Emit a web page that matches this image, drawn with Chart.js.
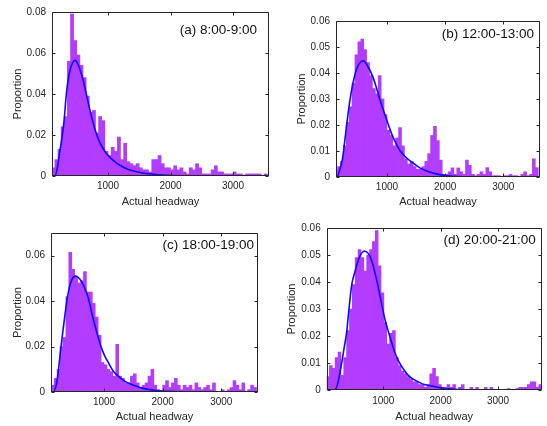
<!DOCTYPE html>
<html>
<head>
<meta charset="utf-8">
<script src="https://cdn.jsdelivr.net/npm/chart.js@4.4.1/dist/chart.umd.min.js"></script>
<style>
  body { margin: 0; background: #fff; }
  #wrap { position: relative; width: 547px; height: 426px; overflow: hidden; }
  canvas { position: absolute; }
</style>
</head>
<body>
<div id="wrap">
  <canvas id="chart-a" width="280" height="216" style="left:0;top:0"></canvas>
  <canvas id="chart-b" width="267" height="216" style="left:280px;top:0"></canvas>
  <canvas id="chart-c" width="280" height="210" style="left:0;top:216px"></canvas>
  <canvas id="chart-d" width="267" height="210" style="left:280px;top:216px"></canvas>
</div>
<script>
const binWidth = 50;
const xTicks = [1000, 2000, 3000];

const binStartA = 100;
const valuesA = [0.004, 0.008, 0.013, 0.024, 0.029, 0.056, 0.079, 0.066, 0.059, 0.054,
  0.048, 0.039, 0.031, 0.032, 0.021, 0.029, 0.027, 0.012, 0.010, 0.014,
  0.012, 0.019, 0.008, 0.016, 0.007, 0.006, 0.005, 0.006, 0.004, 0.003,
  0.003, 0.002, 0.008, 0.008, 0.010, 0.006, 0.004, 0.004, 0.003, 0.005,
  0.003, 0.004, 0.002, 0.001, 0.004, 0.003, 0.006, 0.004, 0.001, 0.001,
  0.001, 0.003, 0.005, 0.002, 0.002, 0.001, 0.001, 0.001, 0.002, 0.001,
  0.001, 0, 0.001, 0.001, 0.001, 0.001, 0.001, 0, 0.001, 0];
const curveXA = [104, 150, 190, 229, 260, 294, 337, 380, 430, 471, 520, 605, 660, 720, 800, 874, 940, 1008, 1143, 1280, 1412, 1550, 1680, 1949, 2300, 2700, 3576];
const curveYA = [0, 0, 0.004, 0.012, 0.018, 0.026, 0.041, 0.050, 0.055, 0.0564, 0.0545, 0.0465, 0.039, 0.031, 0.022, 0.016, 0.0125, 0.0098, 0.0062, 0.0038, 0.0024, 0.0015, 0.001, 0.0004, 0.0001, 0, 0];

const binStartB = 100;
const valuesB = [0.003, 0.004, 0.006, 0.012, 0.021, 0.027, 0.036, 0.047, 0.052, 0.053,
  0.049, 0.044, 0.039, 0.034, 0.032, 0.039, 0.030, 0.024, 0.018, 0.016,
  0.012, 0.015, 0.019, 0.012, 0.007, 0.005, 0.006, 0.004, 0.003, 0.003,
  0.004, 0.006, 0.009, 0.016, 0.0195, 0.014, 0.0065, 0.001, 0.001, 0.002,
  0.0035, 0.001, 0.0035, 0.002, 0.001, 0.0065, 0.0045, 0.001, 0.0005, 0.001,
  0.002, 0.001, 0.0036, 0.002, 0.0005, 0.0005, 0.0005, 0, 0.0005, 0.0005,
  0.001, 0.0005, 0.0005, 0, 0.001, 0.002, 0.0005, 0.001, 0.007, 0.0036];
const curveXB = [124, 135, 180, 238, 270, 307, 360, 410, 470, 530, 594, 660, 755, 810, 870, 985, 1100, 1215, 1330, 1445, 1560, 1675, 1790, 1905, 2135, 2500, 3000, 3631];
const curveYB = [0, 0, 0.002, 0.0073, 0.013, 0.020, 0.029, 0.0355, 0.041, 0.0438, 0.0447, 0.043, 0.0387, 0.035, 0.0304, 0.0227, 0.0156, 0.0105, 0.0075, 0.0054, 0.0036, 0.0024, 0.0015, 0.0009, 0.0003, 0.0001, 0, 0];

const binStartC = 100;
const valuesC = [0.003, 0.006, 0.010, 0.020, 0.024, 0.042, 0.0615, 0.054, 0.051, 0.048,
  0.049, 0.053, 0.044, 0.044, 0.039, 0.033, 0.025, 0.013, 0.012, 0.010,
  0.009, 0.007, 0.021, 0.007, 0.006, 0.004, 0.004, 0.007, 0.008, 0.004,
  0.002, 0.003, 0.004, 0.007, 0.010, 0.003, 0.001, 0, 0.003, 0.005,
  0.002, 0.004, 0.006, 0.003, 0.001, 0.003, 0.002, 0.003, 0.001, 0.004,
  0.002, 0.001, 0.002, 0.003, 0.001, 0.004, 0, 0, 0.001, 0,
  0.001, 0.002, 0.005, 0.003, 0.001, 0.004, 0, 0.001, 0.003, 0.002];
const curveXC = [96, 130, 200, 258, 300, 372, 430, 514, 580, 656, 736, 798, 870, 940, 1010, 1082, 1150, 1224, 1350, 1508, 1650, 1792, 2000, 2300, 2700, 3626];
const curveYC = [0, 0, 0.005, 0.018, 0.027, 0.041, 0.048, 0.051, 0.050, 0.0467, 0.041, 0.034, 0.027, 0.0207, 0.016, 0.0126, 0.0095, 0.0074, 0.0048, 0.003, 0.0017, 0.001, 0.0004, 0.0001, 0, 0];

const binStartD = 10;
const valuesD = [0.005, 0.009, 0.008, 0.012, 0.014, 0.0054, 0.012, 0.022, 0.030, 0.039,
  0.049, 0.052, 0.049, 0.044, 0.050, 0.052, 0.055, 0.059, 0.046, 0.036,
  0.025, 0.017, 0.021, 0.022, 0.012, 0.009, 0.007, 0.006, 0.005, 0.004,
  0.003, 0.003, 0.002, 0.002, 0.001, 0.002, 0.006, 0.008, 0.005, 0.002,
  0.001, 0.001, 0.002, 0.001, 0.002, 0, 0.001, 0.002, 0, 0,
  0.001, 0, 0.001, 0, 0, 0.001, 0, 0.001, 0, 0,
  0, 0, 0, 0.0005, 0, 0, 0.0005, 0.001, 0.001, 0.001,
  0.002, 0.003, 0.003, 0.001, 0.002];
const curveXD = [13, 150, 200, 274, 320, 362, 392, 450, 508, 580, 669, 740, 797, 860, 913, 970, 1030, 1090, 1146, 1200, 1262, 1350, 1436, 1520, 1611, 1720, 1843, 2000, 2134, 2400, 2800, 3762];
const curveYD = [0, 0, 0.002, 0.010, 0.016, 0.0215, 0.028, 0.039, 0.044, 0.049, 0.0515, 0.0505, 0.048, 0.043, 0.038, 0.032, 0.026, 0.0215, 0.0176, 0.014, 0.0109, 0.0078, 0.0054, 0.004, 0.003, 0.002, 0.0015, 0.0008, 0.0004, 0.0001, 0, 0];

const yTicks8 = [0, 0.02, 0.04, 0.06, 0.08];
const yLabels8 = ['0', '0.02', '0.04', '0.06', '0.08'];
const yTicks6 = [0, 0.01, 0.02, 0.03, 0.04, 0.05, 0.06];
const yLabels6 = ['0', '0.01', '0.02', '0.03', '0.04', '0.05', '0.06'];
const yTicks7 = [0, 0.02, 0.04, 0.06];
const yLabels7 = ['0', '0.02', '0.04', '0.06'];

const textColor = '#262626';
const family = "'Liberation Sans', Arial, sans-serif";

// axes box with inward ticks on all four sides, plus the panel label
const boxPlugin = {
  id: 'box',
  afterDraw(chart, args, opts) {
    const { ctx, chartArea: a, scales: { x, y } } = chart;
    const l = Math.round(a.left) + 0.5, r = Math.round(a.right) - 0.5;
    const t = Math.round(a.top) + 0.5, b = Math.round(a.bottom) - 0.5;
    ctx.save();
    ctx.strokeStyle = textColor;
    ctx.lineWidth = 1;
    ctx.beginPath();
    ctx.rect(l, t, r - l, b - t);
    x.ticks.forEach(tk => {
      const px = Math.round(x.getPixelForValue(tk.value)) + 0.5;
      ctx.moveTo(px, b); ctx.lineTo(px, b - 3);
      ctx.moveTo(px, t); ctx.lineTo(px, t + 3);
    });
    y.ticks.forEach(tk => {
      const py = Math.round(y.getPixelForValue(tk.value)) + 0.5;
      ctx.moveTo(l, py); ctx.lineTo(l + 3, py);
      ctx.moveTo(r, py); ctx.lineTo(r - 3, py);
    });
    ctx.stroke();
    ctx.fillStyle = '#111';
    ctx.font = '13.5px ' + family;
    ctx.textAlign = 'right';
    ctx.textBaseline = 'middle';
    ctx.fillText(opts.label, a.right - opts.labelRight, a.top + opts.labelTop);
    ctx.restore();
  }
};

function makePanel(id, p) {
  const bars = p.values.map((v, i) => ({ x: p.binStart + binWidth * i + binWidth / 2, y: v }));
  const curve = p.curveX.map((x, i) => ({ x: x, y: p.curveY[i] }));
  return new Chart(document.getElementById(id), {
    type: 'bar',
    data: {
      datasets: [
        {
          type: 'line',
          data: curve,
          borderColor: '#0a0aff',
          borderWidth: 1.6,
          pointRadius: 0,
          cubicInterpolationMode: 'monotone',
          order: 0
        },
        {
          type: 'bar',
          data: bars,
          backgroundColor: '#b23cff',
          borderWidth: 0,
          barPercentage: 1,
          categoryPercentage: 1,
          order: 1
        }
      ]
    },
    options: {
      responsive: false,
      animation: false,
      layout: { autoPadding: false, padding: p.pad },
      plugins: {
        legend: { display: false },
        tooltip: { enabled: false },
        box: { label: p.label, labelRight: p.labelRight, labelTop: p.labelTop }
      },
      scales: {
        x: {
          type: 'linear',
          offset: false,
          min: p.xMin,
          max: p.xMax,
          grid: { display: false, drawTicks: false },
          border: { display: false },
          afterBuildTicks: s => { s.ticks = xTicks.map(v => ({ value: v })); },
          afterFit: s => { s.height = p.xAxisH; },
          ticks: {
            padding: p.xTickPad,
            color: textColor,
            font: { family: family, size: 10 },
            autoSkip: false,
            maxRotation: 0,
            callback: v => String(v)
          },
          title: {
            display: true,
            text: 'Actual headway',
            color: textColor,
            font: { family: family, size: 11 },
            padding: { top: 0, bottom: p.xTitlePad }
          }
        },
        y: {
          type: 'linear',
          min: 0,
          max: p.yMax,
          grid: { display: false, drawTicks: false },
          border: { display: false },
          afterBuildTicks: s => { s.ticks = p.yTicks.map(v => ({ value: v })); },
          afterFit: s => { s.width = p.yAxisW; },
          ticks: {
            padding: 6,
            color: textColor,
            font: { family: family, size: 10 },
            callback: (v, i) => p.yLabels[i]
          },
          title: {
            display: true,
            text: 'Proportion',
            color: textColor,
            font: { family: family, size: 11 },
            padding: { top: p.yTitlePad, bottom: 0 }
          }
        }
      }
    },
    plugins: [boxPlugin]
  });
}

makePanel('chart-a', {
  values: valuesA, binStart: binStartA, curveX: curveXA, curveY: curveYA,
  xMin: 104, xMax: 3576, yMax: 0.08, yTicks: yTicks8, yLabels: yLabels8,
  pad: { left: 0, top: 11, right: 11, bottom: 0 }, yAxisW: 52, xAxisH: 40,
  xTickPad: 4, xTitlePad: 7.7, yTitlePad: 11.7,
  label: '(a) 8:00-9:00', labelRight: 12, labelTop: 18
});
makePanel('chart-b', {
  values: valuesB, binStart: binStartB, curveX: curveXB, curveY: curveYB,
  xMin: 124, xMax: 3631, yMax: 0.06, yTicks: yTicks6, yLabels: yLabels6,
  pad: { left: 0, top: 21, right: 7, bottom: 0 }, yAxisW: 56, xAxisH: 39,
  xTickPad: 4.3, xTitlePad: 7.7, yTitlePad: 15.7,
  label: '(b) 12:00-13:00', labelRight: 6, labelTop: 13.5
});
makePanel('chart-c', {
  values: valuesC, binStart: binStartC, curveX: curveXC, curveY: curveYC,
  xMin: 96, xMax: 3626, yMax: 0.07, yTicks: yTicks7, yLabels: yLabels7,
  pad: { left: 0, top: 17, right: 22, bottom: 0 }, yAxisW: 51, xAxisH: 34,
  xTickPad: 4.7, xTitlePad: 2.7, yTitlePad: 11.7,
  label: '(c) 18:00-19:00', labelRight: 4, labelTop: 12.7
});
makePanel('chart-d', {
  values: valuesD, binStart: binStartD, curveX: curveXD, curveY: curveYD,
  xMin: 13, xMax: 3762, yMax: 0.06, yTicks: yTicks6, yLabels: yLabels6,
  pad: { left: 0, top: 9.5, right: 5.3, bottom: 0 }, yAxisW: 46.7, xAxisH: 36,
  xTickPad: 5.7, xTitlePad: 2.7, yTitlePad: 5.1,
  label: '(d) 20:00-21:00', labelRight: 6, labelTop: 11.8
});
</script>
</body>
</html>
